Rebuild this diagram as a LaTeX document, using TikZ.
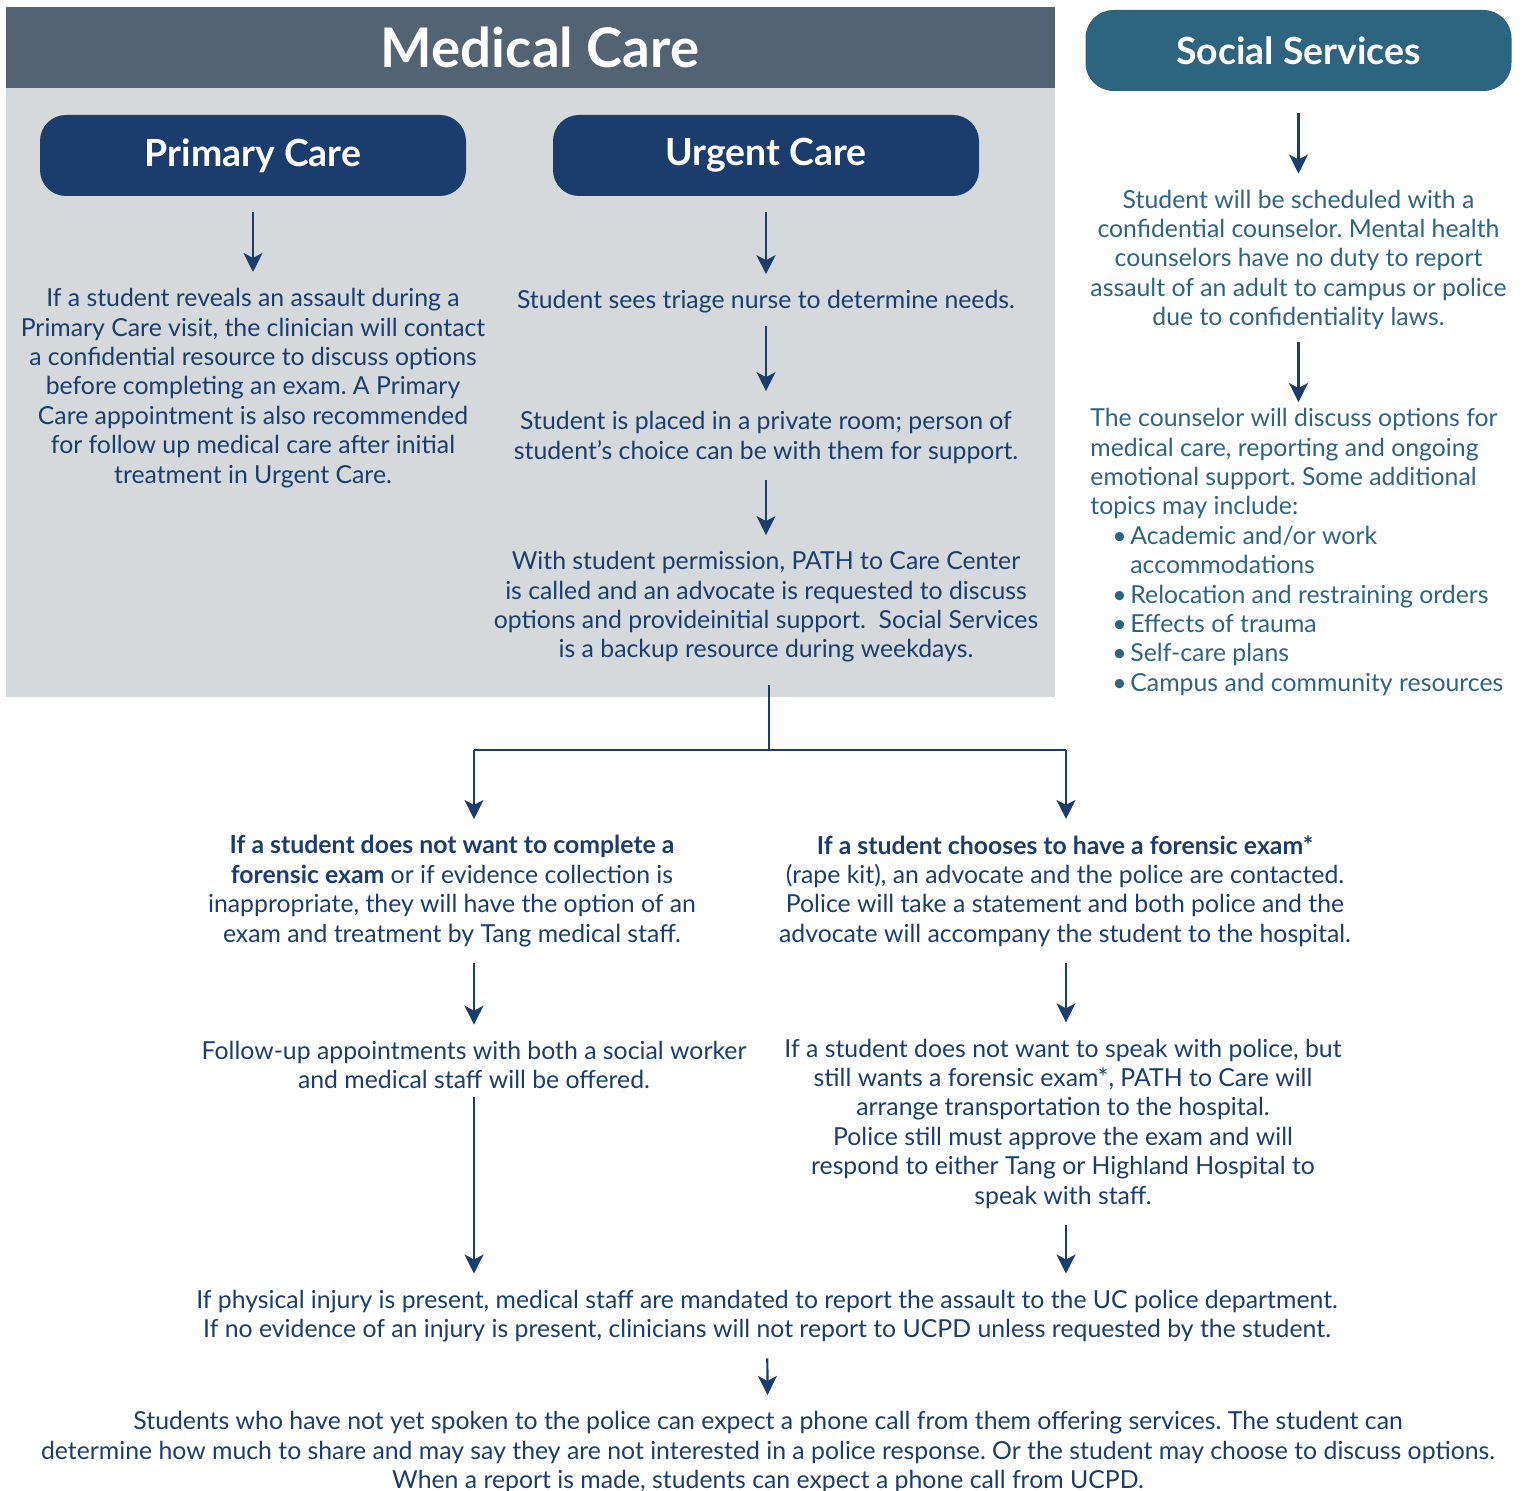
\documentclass[tikz,border=0pt]{standalone}
\usepackage{fontspec}
\setmainfont{Lato}
\frenchspacing
\usetikzlibrary{arrows.meta, calc, positioning}
\definecolor{navy}{HTML}{1B3D6D}
\definecolor{teal}{HTML}{2D6480}
\definecolor{slate}{HTML}{536372}
\definecolor{panel}{HTML}{D5D9DC}
\tikzset{
>={Stealth[length=9.5pt,width=9.5pt,inset=2.5pt]}, % bold arrow heads
every node/.style={inner sep=0pt},
body/.style={font=\fontsize{12.4}{14.7}\selectfont, text=navy, align=center},
pill/.style={fill=navy, text=white, rounded corners=13pt, minimum width=213pt, minimum height=40.5pt, font=\bfseries\fontsize{18.7}{20}\selectfont},
wire/.style={draw=navy, line width=1.1pt},
flow/.style={wire, ->, shorten <=8pt, shorten >=8pt},
}

\begin{document}
\begin{tikzpicture}[x=0.5pt, y=-0.5pt]
  \useasboundingbox (0,0) rectangle (1523,1491);

  % medical care panel
  \fill[panel] (6,7) rectangle (1055,697);
  \fill[slate] (6,7) rectangle (1055,88);
  \node[text=white, font=\bfseries\fontsize{27.3}{29}\selectfont] (medical) at (540,47) {Medical Care};

  \node[pill] (primary) at (253,155.5) {Primary Care};
  \node[pill] (urgent) at (766,155.5) {Urgent Care};
  \node[pill, fill=teal, rounded corners=14pt] (social) at (1298.5,50.5) {Social Services};

  % primary care column
  \node[body] (pctxt) at (253,388) {If a student reveals an assault during a\\
    Primary Care visit, the clinician will contact\\
    a confidential resource to discuss options\\
    before completing an exam. A Primary\\
    Care appointment is also recommended\\
    for follow up medical care after initial\\
    treatment in Urgent Care.};

  % urgent care column
  \node[body] (triage) at (766,302) {Student sees triage nurse to determine needs.};
  \node[body] (room) at (766,437.5) {Student is placed in a private room; person of\\
    student’s choice can be with them for support.};
  \node[body] (path) at (766,607) {With student permission, PATH to Care Center\\
    is called and an advocate is requested to discuss\\
    options and provideinitial support.\ \ Social Services\\
    is a backup resource during weekdays.};

  % social services column
  \node[body, text=teal] (counsel) at (1298.5,260) {Student will be scheduled with a\\
    confidential counselor. Mental health\\
    counselors have no duty to report\\
    assault of an adult to campus or police\\
    due to confidentiality laws.};
  \node[body, text=teal, align=left, anchor=west] (topics) at (1090,552) {The counselor will discuss options for\\
    medical care, reporting and ongoing\\
    emotional support. Some additional\\
    topics may include:\\
    \hspace*{11pt}\makebox[9pt][l]{\textbullet}Academic and/or work\\
    \hspace*{20pt}accommodations\\
    \hspace*{11pt}\makebox[9pt][l]{\textbullet}Relocation and restraining orders\\
    \hspace*{11pt}\makebox[9pt][l]{\textbullet}Effects of trauma\\
    \hspace*{11pt}\makebox[9pt][l]{\textbullet}Self-care plans\\
    \hspace*{11pt}\makebox[9pt][l]{\textbullet}Campus and community resources};

  % branches below the panel
  \node[body] (noexam) at (452,891) {\textbf{If a student does not want to complete a}\\
    \textbf{forensic exam} or if evidence collection is\\
    inappropriate, they will have the option of an\\
    exam and treatment by Tang medical staff.};
  \node[body] (followup) at (474,1065) {Follow-up appointments with both a social worker\\
    and medical staff will be offered.};
  \node[body] (exam) at (1065,891) {\textbf{If a student chooses to have a forensic exam*}\\
    (rape kit), an advocate and the police are contacted.\\
    Police will take a statement and both police and the\\
    advocate will accompany the student to the hospital.};
  \node[body] (nopolice) at (1063,1123.5) {If a student does not want to speak with police, but\\
    still wants a forensic exam*, PATH to Care will\\
    arrange transportation to the hospital.\\
    Police still must approve the exam and will\\
    respond to either Tang or Highland Hospital to\\
    speak with staff.};
  \node[body] (injury) at (767,1316) {If physical injury is present, medical staff are mandated to report the assault to the UC police department.\\
    If no evidence of an injury is present, clinicians will not report to UCPD unless requested by the student.};
  \node[body] (call) at (768,1452) {Students who have not yet spoken to the police can expect a phone call from them offering services. The student can\\
    determine how much to share and may say they are not interested in a police response. Or the student may choose to discuss options.\\
    When a report is made, students can expect a phone call from UCPD.};

  \coordinate (split) at (769,750);
  \coordinate (jl) at (474,750);
  \coordinate (jr) at (1066,750);

  \draw[flow] (primary) -- (pctxt);
  \draw[flow] (urgent) -- (triage);
  \draw[flow, shorten <=6pt, shorten >=10pt] (triage) -- (room);
  \draw[flow] (room) -- (path);
  \draw[flow, shorten <=11pt] (social) -- (counsel);
  \draw[flow, shorten <=6pt, shorten >=3pt] (counsel.south) -- (counsel.south |- topics.north);

  \draw[wire, shorten <=11pt] (path.south -| split) -- (split);
  \draw[wire] (jl) -- (jr);
  \draw[flow, shorten <=0pt] (jl) -- (jl |- noexam.north);
  \draw[flow, shorten <=0pt] (jr) -- (jr |- exam.north);
  \draw[flow] (noexam.south -| followup) -- (followup);
  \draw[flow] (exam.south -| jr) -- (jr |- nopolice.north);
  \draw[flow, shorten <=4pt] (followup) -- (followup |- injury.north);
  \draw[flow] (nopolice.south -| jr) -- (jr |- injury.north);
  \draw[flow] (injury) -- (call);
\end{tikzpicture}
\end{document}
